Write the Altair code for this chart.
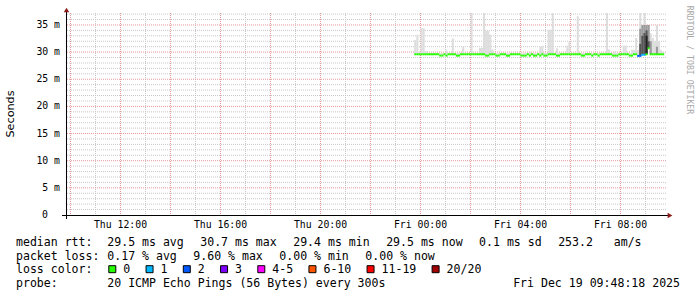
import altair as alt
import pandas as pd

NBSP = "\u00a0"
MONO = "DejaVu Sans Mono"
SANS = "DejaVu Sans"

# ---------------- data ----------------
# time axis in hours since Thu 00:00 (24 = Fri 00:00)
x_domain = [9.82, 33.82]            # ~Thu 09:48 .. ~Fri 09:48
y_domain = [0, 37.2]                # milliseconds
first_step = 23.75                  # first 5-minute sample, Thu 23:45
step_h = 5 / 60

median_ms = [
    29.6, 29.6, 29.6, 29.6, 29.6, 29.6, 29.6, 29.6, 29.6, 29.6, 29.6, 29.6,
    29.35, 29.35, 29.6, 29.35, 29.6, 29.6, 29.6, 29.6, 29.35, 29.35, 29.6, 29.6,
    29.6, 29.6, 29.6, 29.6, 29.6, 29.6, 29.6, 29.6, 29.6, 29.6, 29.35, 29.35,
    29.6, 29.6, 29.6, 29.35, 29.35, 29.6, 29.6, 29.6, 29.35, 29.35, 29.6, 29.6,
    29.6, 29.6, 29.6, 29.35, 29.35, 29.35, 29.6, 29.35, 29.6, 29.35, 29.35, 29.6,
    29.35, 29.6, 29.35, 29.35, 29.6, 29.6, 29.6, 29.6, 29.35, 29.35, 29.6, 29.6,
    29.6, 29.6, 29.6, 29.6, 29.6, 29.6, 29.6, 29.6, 29.35, 29.35, 29.6, 29.6,
    29.6, 29.35, 29.6, 29.6, 29.35, 29.6, 29.6, 29.6, 29.6, 29.6, 29.6, 29.35,
    29.35, 29.35, 29.6, 29.6, 29.6, 29.6, 29.6, 29.35, 29.35, 29.6, 29.6, 29.3,
    29.3, 29.5, 29.5, 29.6, 30.7, 29.6, 29.6, 29.6, 29.6, 29.6, 29.6, 29.6,
]

loss_count = [
    0, 0, 0, 0, 0, 0, 0, 0, 0, 0, 0, 0,
    0, 0, 0, 0, 0, 0, 0, 0, 0, 0, 0, 0,
    0, 0, 0, 0, 0, 0, 0, 0, 0, 0, 0, 0,
    0, 0, 0, 0, 0, 0, 0, 0, 0, 0, 0, 0,
    0, 0, 0, 0, 0, 0, 0, 0, 0, 0, 0, 0,
    0, 0, 0, 0, 0, 0, 0, 0, 0, 0, 0, 0,
    0, 0, 0, 0, 0, 0, 0, 0, 0, 0, 0, 0,
    0, 0, 0, 0, 0, 0, 0, 0, 0, 0, 0, 0,
    0, 0, 0, 0, 0, 0, 0, 0, 0, 0, 0, 2,
    2, 1, 1, 0, 0, 0, 0, 0, 0, 0, 0, 0,
]

# highest ping of each sample (light smoke)
smoke_hi = [
    32.2, 33.2, 30.0, 34.4, 34.4, 30.2, 29.8, 29.8, 29.8, 29.8, 29.8, 29.8,
    29.8, 29.8, 29.8, 30.3, 29.8, 29.8, 32.5, 29.8, 29.8, 29.8, 29.8, 31.0,
    29.8, 29.8, 29.8, 37.2, 29.9, 29.8, 29.8, 30.8, 30.8, 37.2, 33.9, 33.9,
    33.2, 30.5, 29.8, 29.8, 29.8, 29.8, 29.8, 29.8, 29.8, 29.8, 29.8, 29.8,
    29.8, 29.8, 29.8, 29.8, 29.8, 29.8, 29.8, 30.0, 29.8, 29.8, 29.8, 29.8,
    31.0, 31.0, 29.8, 29.8, 34.1, 34.1, 37.2, 29.8, 30.7, 29.8, 29.8, 29.8,
    29.8, 31.2, 32.0, 29.8, 29.8, 29.8, 36.6, 29.8, 29.8, 29.8, 29.8, 29.8,
    29.8, 29.8, 29.8, 29.8, 29.8, 29.8, 29.8, 29.8, 37.2, 30.5, 29.8, 29.8,
    30.2, 29.8, 29.8, 29.8, 31.2, 31.2, 29.8, 29.8, 30.4, 30.4, 32.6, 30.4,
    37.2, 35.0, 37.2, 35.0, 35.0, 33.5, 32.6, 32.0, 35.0, 32.0, 30.4, 30.0,
]

# denser smoke (more pings) at the end of the period
smoke_mid_idx = [108, 109, 110, 111, 112, 113, 116]
smoke_mid = [34.3, 35.0, 35.0, 35.0, 35.0, 32.0, 31.0]
smoke_dark_idx = [108, 109, 110, 111, 112]
smoke_dark = [31.5, 33.0, 33.5, 34.0, 32.0]
smoke_black_idx = [111]
smoke_black = [33.0]

loss_labels = ["0", "1", "2", "3", "4-5", "6-10", "11-19", "20/20"]
loss_colors = ["#26ff00", "#00b8ff", "#0059ff", "#7e00ff", "#ff00ff", "#ff5500", "#ff0000", "#a10000"]

x_label_hours = [12, 16, 20, 24, 28, 32]
x_label_text = ["Thu 12:00", "Thu 16:00", "Thu 20:00", "Fri 00:00", "Fri 04:00", "Fri 08:00"]
y_label_vals = [5, 10, 15, 20, 25, 30, 35]
y_label_text = ["5 m", "10 m", "15 m", "20 m", "25 m", "30 m", "35 m"]
y_zero_text = "0"
vgrid_major = [10, 12, 14, 16, 18, 20, 22, 24, 26, 28, 30, 32]
vgrid_minor = [11, 13, 15, 17, 19, 21, 23, 25, 27, 29, 31, 33]
hgrid_major = [5, 10, 15, 20, 25, 30, 35]
hgrid_minor = [1, 2, 3, 4, 6, 7, 8, 9, 11, 12, 13, 14, 16, 17, 18, 19,
               21, 22, 23, 24, 26, 27, 28, 29, 31, 32, 33, 34, 36, 37]

legend_rows = [
    ["median rtt:", "29.5 ms avg", "30.7 ms max", "29.4 ms min", "29.5 ms now", "0.1 ms sd", "253.2   am/s"],
    ["packet loss:", "0.17 % avg", "9.60 % max", "0.00 % min", "0.00 % now"],
    ["loss color:"],
    ["probe:", "20 ICMP Echo Pings (56 Bytes) every 300s"],
]
date_text = "Fri Dec 19 09:48:18 2025"
y_title = "Seconds"
watermark = "RRDTOOL / TOBI OETIKER"

# ---------------- layout ----------------
PAD_L, PAD_T = 66, 13
W, H = 600, 202
CW = 6.95            # legend char width
GAP = 16.5
row_base = [245.8, 259.6, 273.4, 287.2]


def nb(s):
    return s.replace(" ", NBSP)


def loss_label(c):
    if c <= 3:
        return str(c)
    if c <= 5:
        return "4-5"
    if c <= 10:
        return "6-10"
    if c <= 19:
        return "11-19"
    return "20/20"


n = len(median_ms)
t0 = [first_step + i * step_h for i in range(n)]
steps = pd.DataFrame({
    "t0": t0,
    "t1": [t + step_h for t in t0],
    "med": median_ms,
    "hi": smoke_hi,
    "loss": [loss_label(c) for c in loss_count],
})


def band(idx, vals):
    return pd.DataFrame({
        "t0": [t0[i] for i in idx],
        "t1": [t0[i] + step_h for i in idx],
        "med": [median_ms[i] for i in idx],
        "hi": vals,
    })


xs = alt.Scale(domain=x_domain, nice=False, zero=False)
ys = alt.Scale(domain=y_domain, nice=False, zero=False)


def vgrid(vals, color):
    df = pd.DataFrame({"h": vals})
    return alt.Chart(df).mark_rule(color=color, strokeWidth=1, strokeDash=[1, 1]).encode(
        x=alt.X("h:Q", scale=xs, axis=None),
        y=alt.value(0), y2=alt.value(H),
    )


def hgrid(vals, color):
    df = pd.DataFrame({"v": vals})
    return alt.Chart(df).mark_rule(color=color, strokeWidth=1, strokeDash=[1, 1]).encode(
        y=alt.Y("v:Q", scale=ys, axis=None),
        x=alt.value(1), x2=alt.value(W),
    )


def smoke(df, color):
    return alt.Chart(df).mark_rect(color=color).encode(
        x=alt.X("t0:Q", scale=xs, axis=None), x2="t1:Q",
        y=alt.Y("med:Q", scale=ys, axis=None), y2="hi:Q",
    )


layers = [
    hgrid(hgrid_minor, "#c8c8c8"),
    vgrid(vgrid_minor, "#c8c8c8"),
    hgrid(hgrid_major, "#e69a9a"),
    vgrid(vgrid_major, "#e69a9a"),
    smoke(steps, "#dddddd"),
    smoke(band(smoke_mid_idx, smoke_mid), "#9a9a9a"),
    smoke(band(smoke_dark_idx, smoke_dark), "#555555"),
    smoke(band(smoke_black_idx, smoke_black), "#222222"),
    alt.Chart(steps).mark_rule(strokeWidth=2).encode(
        x=alt.X("t0:Q", scale=xs, axis=None), x2="t1:Q",
        y=alt.Y("med:Q", scale=ys, axis=None),
        color=alt.Color("loss:N", scale=alt.Scale(domain=loss_labels, range=loss_colors), legend=None),
    ),
]

# axis labels, placed through the scales
xlab_df = pd.DataFrame({"h": x_label_hours, "text": x_label_text})
ylab_df = pd.DataFrame({"v": y_label_vals, "text": [nb(s) for s in y_label_text]})
yzero_df = pd.DataFrame({"v": [0], "text": [y_zero_text]})
layers += [
    alt.Chart(xlab_df).mark_text(font=MONO, fontSize=9.8, color="black", align="center",
                                 baseline="alphabetic").encode(
        x=alt.X("h:Q", scale=xs, axis=None), y=alt.value(H + 13.2), text="text:N"),
    alt.Chart(ylab_df).mark_text(font=MONO, fontSize=9.8, color="black", align="right",
                                 baseline="middle").encode(
        y=alt.Y("v:Q", scale=ys, axis=None), x=alt.value(-6), text="text:N"),
    alt.Chart(yzero_df).mark_text(font=MONO, fontSize=9.8, color="black", align="right",
                                  baseline="middle").encode(
        y=alt.Y("v:Q", scale=ys, axis=None), x=alt.value(-18), text="text:N"),
]

# axes lines and arrows
axis_df = pd.DataFrame({"k": [0]})
layers += [
    alt.Chart(axis_df).mark_rule(color="black", strokeWidth=1).encode(
        x=alt.value(0.5), y=alt.value(-3), y2=alt.value(H + 4)),
    alt.Chart(axis_df).mark_rule(color="black", strokeWidth=1).encode(
        y=alt.value(H + 0.5), x=alt.value(-4), x2=alt.value(W + 3)),
    alt.Chart(axis_df).mark_point(shape="triangle-up", filled=True, color="#8b1a1a", size=30, opacity=1).encode(
        x=alt.value(0.5), y=alt.value(-3)),
    alt.Chart(axis_df).mark_point(shape="triangle-right", filled=True, color="#8b1a1a", size=30, opacity=1).encode(
        x=alt.value(W + 4), y=alt.value(H + 0.5)),
]

# legend text
txt = []
for r, row in enumerate(legend_rows):
    for j, tok in enumerate(row):
        if j == 0:
            x = 16
        elif j == 1:
            x = 107.3
        else:
            x = txt[-1]["px"] + len(row[j - 1]) * CW + GAP
        txt.append({"text": tok, "px": x, "py": row_base[r]})
legend_df = pd.DataFrame(txt)
legend_df["text"] = legend_df["text"].map(nb)
legend_df["px"] = legend_df["px"] - PAD_L
legend_df["py"] = legend_df["py"] - PAD_T

# loss colour boxes and labels
boxes, labs = [], []
bx = 108.3
for lab, col in zip(loss_labels, loss_colors):
    boxes.append({"px": bx + 4 - PAD_L, "py": 269.2 - PAD_T, "col": col})
    labs.append({"text": lab, "px": bx + 15 - PAD_L, "py": row_base[2] - PAD_T})
    bx = bx + 15 + len(lab) * CW + 15.3
boxes_df = pd.DataFrame(boxes)
labs_df = pd.DataFrame(labs)

date_df = pd.DataFrame({"text": [nb(date_text)], "px": [680 - PAD_L], "py": [row_base[3] - PAD_T]})


def text_layer(df, align="left", font=MONO, size=11.55, color="#000000", angle=0, baseline="alphabetic"):
    return alt.Chart(df).mark_text(align=align, baseline=baseline, font=font, fontSize=size,
                                   color=color, angle=angle).encode(
        x=alt.X("px:Q", scale=None, axis=None),
        y=alt.Y("py:Q", scale=None, axis=None),
        text="text:N",
    )


layers += [
    text_layer(legend_df),
    text_layer(labs_df),
    text_layer(date_df, align="right"),
    alt.Chart(boxes_df).mark_square(size=49, stroke="black", strokeWidth=1, opacity=1).encode(
        x=alt.X("px:Q", scale=None, axis=None),
        y=alt.Y("py:Q", scale=None, axis=None),
        color=alt.Color("col:N", scale=None),
    ),
    text_layer(pd.DataFrame({"text": [y_title], "px": [11 - PAD_L], "py": [114 - PAD_T]}),
               align="center", font=SANS, size=11.2, angle=270, baseline="middle"),
    text_layer(pd.DataFrame({"text": [nb(watermark)], "px": [688.5 - PAD_L], "py": [60 - PAD_T]}),
               align="center", size=8.2, color="#a8a8a8", angle=90, baseline="middle"),
]

chart = alt.layer(*layers).properties(
    width=W, height=H,
    padding={"left": PAD_L, "top": PAD_T, "right": 697 - PAD_L - W, "bottom": 297 - PAD_T - H},
    autosize=alt.AutoSizeParams(type="none"),
    background="#ffffff",
).configure_view(strokeWidth=0)

chart.save("out.html", embed_options={"renderer": "svg", "actions": False})
